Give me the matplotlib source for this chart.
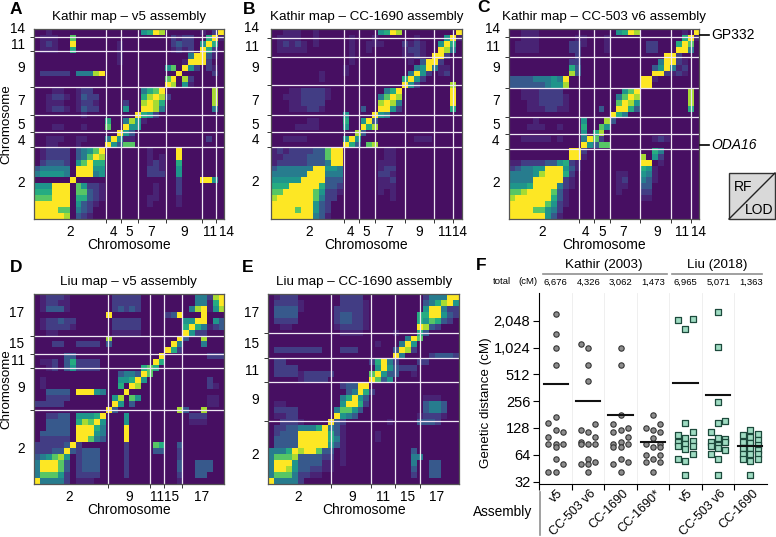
import numpy as np
import matplotlib
matplotlib.use("Agg")
import matplotlib.pyplot as plt
from matplotlib.lines import Line2D
from matplotlib.patches import Rectangle

plt.rcParams['font.family'] = ['Liberation Sans', 'DejaVu Sans']

# heat maps, one digit per cell, top row first (0 = dark purple, 9 = yellow)
kathir_v5 = """
0010 0000 0000 0000 0056 9800 0000 1029
0111 0070 0000 0000 0000 0002 1220 0691
0121 0090 0000 0010 0000 0002 3220 5960
0111 0060 0000 0010 0000 0001 2120 9620
0000 0000 0000 0010 0000 0000 0049 9310
0000 0000 0000 0010 0000 0000 0199 9200
0000 0000 0000 0000 0000 0057 0952 0210
0222 2204 4489 0000 0000 0000 9000 0020
0000 0000 0000 0000 0000 0079 0820 0000
0000 0000 0000 0000 0000 0098 0510 0000
0001 1001 2200 0000 0046 7900 0000 0080
0012 2101 3220 0000 0068 9820 0000 0080
0011 1001 2210 0002 0089 8600 0000 0080
0012 2101 3220 0005 0099 8400 0000 0040
0000 0000 1000 0000 0965 2000 0000 0000
0000 0000 0000 6004 8510 0000 0000 0000
0001 1000 1000 7009 5500 0000 0000 0000
0000 0000 0000 0095 3000 0000 0000 0000
0011 1001 1000 4951 1000 0000 0000 0200
0011 0001 0000 9537 7000 0000 0000 0000
0122 2203 4579 0000 0001 0000 9000 0000
0122 2203 4798 0000 0001 0100 9000 0000
0233 3205 7966 0000 0001 2100 6000 0000
3444 4409 9955 0000 0002 2100 5000 0000
4555 5409 9945 0000 0002 2200 5000 0000
0000 0090 0000 0000 0000 0000 2000 9950
5559 9907 5221 0000 0000 1000 2000 0000
6669 9907 7321 0000 0000 1000 2000 0000
7779 9906 6321 0000 0001 1000 1000 0000
9999 9905 3210 0000 0001 0000 1000 0000
9999 7704 3200 0000 0000 0000 0000 0000
9999 9803 2100 0000 0000 0000 0000 0000
"""

kathir_1690 = """
0011 1001 0000 0000 0056 9800 0000 0009
0111 1001 0000 0100 0100 0000 1000 0591
0121 2101 0000 0100 1110 0021 2100 5960
0111 1100 0000 0100 1000 0012 2100 9840
0000 0000 0000 0100 0000 0011 2109 9200
0000 0000 0000 0100 0000 0001 0399 2000
0000 0000 0000 1000 0000 0000 4594 1100
0000 0000 1000 1000 0000 0004 9520 1200
0000 0000 1000 0000 0000 0069 5200 0000
0000 0000 0000 0000 0000 0095 2000 0080
0001 1222 2100 0000 0004 6900 0000 0090
0011 1222 2100 0000 0047 9800 0000 0090
0001 1222 2000 0000 0089 8400 0000 0090
0001 1122 1000 0003 0099 5200 0000 0060
0000 0000 0000 5000 0954 0000 0000 0000
0000 0011 0000 6005 9300 0000 0000 0000
0000 1111 0000 5009 6800 0000 0000 0000
0000 0000 0000 0083 0000 0000 0000 0000
0011 1100 0000 5950 0000 0000 1110 0000
0000 0000 0000 9630 7800 0000 0000 0000
1212 2223 3799 0000 0001 1000 0000 0000
1122 2233 3799 0000 0001 1000 0000 0000
1222 2233 3499 0000 0011 1000 0000 0000
3444 4449 9554 0000 0012 2000 0000 0000
4444 4499 9444 0000 0022 1000 0000 0000
5555 5999 9333 0000 0011 2000 0000 0000
6669 9999 6332 0000 0011 1000 0000 0000
7799 9997 5221 0000 0010 1000 0000 0000
8999 9997 4220 0000 0000 1000 0000 0000
9999 9995 3200 0000 0000 0000 0000 0000
9999 7995 3200 0000 0000 0000 0000 0000
9999 9994 3100 0000 0000 0000 0000 0000
"""

kathir_503 = """
0011 1000 0000 0000 0056 9800 0000 0109
0011 1000 0001 1000 1000 0000 0000 0691
0111 1000 0022 1000 1000 0002 2000 6970
0111 1000 0022 0000 1000 0002 2000 9940
0000 0000 0002 0000 0000 0000 0099 2000
0000 0000 0022 0000 0000 0000 0499 2100
0000 0000 0063 0000 0000 0000 3594 1200
0000 0000 0083 0000 0000 0000 9921 2100
3333 4445 4900 0000 0000 0099 1000 0000
3333 3345 5800 0000 0000 0099 0000 0000
0011 1222 2000 0000 0005 7900 0000 0080
0011 1222 2100 0000 0047 9800 0000 0080
0001 1222 2100 0000 0079 8500 0000 0080
0001 1122 1100 0003 0099 6300 0000 0060
0000 0000 0000 0000 0964 0000 0000 0000
0000 1000 0000 5000 8300 0000 0000 0000
0001 1100 1000 6007 5000 0000 0000 0000
0000 0000 0000 5068 0000 0000 0000 0000
0011 1110 1000 4972 0000 0000 1210 0000
0000 0000 0000 9537 7000 0000 0000 0000
0000 0000 0099 2000 0000 0000 6400 0000
0000 0000 0099 1000 0000 0080 5200 0000
1122 2233 5621 0000 0000 0099 0100 0000
2344 5599 9531 0000 0000 0065 1000 0000
4444 5899 9620 0000 0011 0054 1000 0000
4444 9999 9210 0000 0012 0043 1000 0000
5556 9999 4210 0000 0011 0033 0000 0000
7789 9997 3100 0000 0010 0022 0000 0000
8999 9996 3100 0000 0000 0011 0000 0000
9999 9975 2100 0000 0000 0000 0000 0000
9999 7754 2000 0000 0000 0000 0000 0000
9999 9953 1000 0000 0000 0000 0000 0000
"""

liu_v5 = """
0122 2100 0000 0222 2200 0000 0004 4289
0122 1100 0000 0222 2200 0000 0004 4169
0133 3100 0000 0232 3200 0000 0048 9158
0000 0000 0000 9000 0000 0023 9000 9000
0122 3220 0000 0222 2200 0000 0559 9053
0122 2210 0000 0222 2200 0000 0696 4123
0011 0000 0000 0111 1100 0000 0952 2000
0000 0000 0000 8000 0000 0000 9300 8000
0002 2002 2220 3000 0000 0009 4000 4000
0000 0000 0000 0000 0000 0096 2000 0000
0000 0330 0000 0000 0000 0900 0000 0222
0112 0362 2220 0000 0000 9600 0000 0000
0012 0352 2220 0000 0067 6000 0000 0000
0000 0000 0000 0034 4397 0000 0000 0000
0100 0000 0000 0055 6950 0000 0000 0200
0100 0000 0000 0060 9800 0000 0000 0210
0033 3309 9954 0009 0000 0000 0000 0000
0022 2200 0000 0580 7500 0000 0000 0110
2222 2000 0000 0950 3000 0000 0000 0110
0000 0000 0000 9300 0000 0000 8300 8000
0022 3305 5569 0005 0000 0000 0022 2000
0033 3306 8795 0005 0000 0000 0011 1000
0033 3309 9964 0009 0000 0000 0000 0000
0333 3309 9954 0009 0000 0000 0000 0000
0222 2209 9743 0009 0000 0000 0000 0000
2222 2392 0000 0002 0000 7600 3000 0000
2223 3932 3330 0002 0000 3300 2000 0000
3457 8502 3330 0002 0000 0000 2000 0000
4999 7302 3330 0002 0000 0000 3003 3300
4999 7302 3330 0002 0000 0000 3003 3300
4777 5202 2220 0002 0000 0000 2003 3000
9444 4201 1100 0000 0000 0000 1000 0000
"""

liu_1690 = """
0122 2000 0000 2222 0000 0000 0024 4499
0222 2100 0000 2222 1000 0000 0034 6895
0333 3100 0002 2222 1000 0000 0059 9422
0333 3000 0002 3322 1000 0000 0669 9532
0222 2000 0002 3322 1000 0000 0657 6320
0011 0000 0001 2222 1000 0000 0983 2000
0000 0000 0000 1111 0000 0100 0630 0000
0000 0000 0000 0000 0000 0004 9700 0000
0000 0000 0000 0000 0010 0049 5000 0000
0222 2222 2000 2220 0000 0398 2000 0000
0000 0000 0000 0000 0000 0940 0002 3332
0220 0000 0000 0000 0269 4200 0220 0000
0222 2000 0000 0000 0059 5322 2000 0000
0222 2122 2220 0000 0795 3300 1000 0000
0000 0122 2200 0000 0973 5000 0000 0000
0000 0000 0000 2339 9000 0000 0000 0000
0000 0000 0000 0349 6200 0000 0000 0000
0000 0000 0000 4695 3000 0000 0011 1000
0110 0000 0000 5996 2000 0000 0034 4300
0222 2000 0004 7753 0000 0000 0034 4300
0112 2000 0009 5430 0000 0000 0122 2100
0022 2100 0093 2000 0000 1000 0333 2000
0223 3444 6943 1000 0000 0000 0000 0000
0233 3999 9963 1000 0010 0000 0000 0000
0333 3999 9964 1000 0010 0000 0000 0000
0333 3999 9953 1000 0000 0000 0000 0000
4446 9899 7330 1000 0000 0000 3000 0000
4777 8333 3220 1000 0000 0000 4400 0000
4999 5333 3110 1000 0000 0000 4003 3000
4998 5332 2110 0000 0000 0000 3003 3000
4777 4221 1000 0000 0000 0000 2003 3000
9444 4200 0000 0000 0000 0000 0000 0000
"""

chrom_k = ['2', '4', '5', '7', '9', '11', '14']
chrom_l = ['2', '9', '11', '15', '17']

# genetic distance panel
assemblies = ['v5', 'CC-503 v6', 'CC-1690', 'CC-1690*', 'v5', 'CC-503 v6', 'CC-1690']
totals = ['6,676', '4,326', '3,062', '1,473', '6,965', '5,071', '1,363']
means = [395, 256, 180, 88, 413, 300, 80]

dist_k_v5 = [2412, 1439, 1002, 651, 171, 145, 120, 116, 102, 85, 85, 85, 78, 57, 50, 41, 41]
side_k_v5 = [0, 0, 0, 0, 0, -1, 0, 1, -1, -1, 0, 1, 0, 0, 1, -1, 0]
dist_k_503 = [1131, 1002, 651, 434, 143, 120, 116, 102, 88, 85, 85, 85, 57, 53, 51, 51, 41]
side_k_503 = [-1, 0, 0, 0, 1, -1, 0, 1, -1, -1, 0, 1, 0, 1, -1, 0, 0]
dist_k_1690 = [1002, 651, 179, 143, 128, 120, 116, 102, 85, 88, 85, 78, 78, 57, 53, 51, 41]
side_k_1690 = [0, 0, 0, -1, 1, 0, -1, 1, -1, 0, 1, -1, 0, 0, 1, -1, 0]
dist_k_star = [178, 143, 128, 120, 116, 98, 85, 85, 78, 78, 64, 64, 57, 53, 53, 41]
side_k_star = [0, 1, -1, 0, 1, 0, -1, 1, 0, 1, -1, 1, 0, -1, 1, 0]
dist_l_v5 = [2084, 2118, 1650, 146, 107, 116, 99, 88, 92, 85, 80, 81, 74, 65, 58, 55, 38]
side_l_v5 = [-1, 1, 0, 0, -1, 1, 0, -1, 1, 0, -1, 1, 0, 1, -1, 0, 0]
dist_l_503 = [2540, 1047, 250, 152, 146, 116, 100, 96, 88, 88, 83, 81, 76, 73, 65, 58, 38]
side_l_503 = [0, 0, 0, 1, 0, -1, 0, 1, -1, 1, 0, -1, 0, 1, -1, 0, 0]
dist_l_1690 = [123, 107, 109, 102, 88, 95, 87, 83, 76, 76, 73, 65, 65, 66, 57, 54, 58, 38]
side_l_1690 = [0, -1, 1, 0, -1, 1, 0, 1, -1, 0, 1, -1, 0, 1, -1, 0, 1, 0]

W = 776.0
H = 537.0
fig = plt.figure(figsize=(7.76, 5.37), dpi=100)


def add_ax(x0, y0, x1, y1):
    return fig.add_axes([x0 / W, 1 - y1 / H, (x1 - x0) / W, (y1 - y0) / H])


def label(x, y, s, **kw):
    kw.setdefault('ha', 'center')
    kw.setdefault('va', 'center')
    kw.setdefault('fontsize', 10)
    fig.text(x / W, 1 - y / H, s, **kw)


levels = np.array([0.04, 0.1, 0.18, 0.28, 0.42, 0.52, 0.62, 0.74, 0.87, 1.0])


def heatmap(box, grid, borders, names, xpos, ypos, title, ylabel=False, ygap=9):
    rows = [r.replace(' ', '') for r in grid.strip().split('\n')]
    mat = np.array([[int(c) for c in r] for r in rows])
    ax = add_ax(*box)
    ax.imshow(levels[mat], cmap='viridis', vmin=0, vmax=1, origin='upper', extent=[0, 32, 0, 32],
              aspect='auto', interpolation='nearest')
    for b in borders:
        ax.axvline(b, color='#efe8f4', lw=0.9)
        ax.axhline(b, color='#efe8f4', lw=0.9)
    ax.set_xlim(0, 32)
    ax.set_ylim(0, 32)
    ax.set_xticks(borders)
    ax.set_yticks(borders)
    ax.set_xticklabels([])
    ax.set_yticklabels([])
    ax.tick_params(length=3.2, width=0.7, color='#333333')
    for s in ax.spines.values():
        s.set_color('#555555')
        s.set_linewidth(0.9)
    x0, y0, x1, y1 = box
    cell = (x1 - x0) / 32.0
    for n, p in zip(names, xpos):
        label(x0 + p * cell, y1 + 13, n, fontsize=9.8)
    for n, p in zip(names, ypos):
        label(x0 - ygap, y1 - p * cell, n, fontsize=9.8, ha='right')
    label((x0 + x1) / 2, y1 + 26, 'Chromosome', fontsize=10)
    label((x0 + x1) / 2, y0 - 12, title, fontsize=9.6)
    if ylabel:
        label(x0 - 27.5, (y0 + y1) / 2, 'Chromosome', fontsize=9.6, rotation=90)


heatmap((34, 29, 224, 219), kathir_v5, [12.2, 14.6, 17.5, 22.3, 28.3, 30.7], chrom_k,
        [6.1, 13.4, 16.1, 19.7, 25.3, 29.6, 32.4], [6.1, 13.2, 15.8, 19.9, 25.4, 29.3, 32],
        'Kathir map – v5 assembly', ylabel=True)
heatmap((271, 29, 461.7, 219), kathir_1690, [12.2, 14.7, 17.5, 22.5, 27.3, 30.5], chrom_k,
        [6.4, 13.4, 15.9, 19.8, 24.8, 29.2, 31.6], [6.2, 13.2, 15.8, 19.8, 25.4, 28.9, 32],
        'Kathir map – CC-1690 assembly', ygap=12)
heatmap((508.7, 29, 698.7, 219), kathir_503, [11.8, 14.3, 17.1, 22.1, 27.3, 30.7], chrom_k,
        [5.7, 12.9, 15.7, 19.3, 25, 29.2, 32], [6.1, 13.2, 15.8, 19.9, 25.4, 28.9, 32],
        'Kathir map – CC-503 v6 assembly')
heatmap((33.5, 294.3, 224, 484.3), liu_v5, [12.5, 19.6, 22, 24.9], chrom_l,
        [6, 16, 20.7, 23.2, 28.3], [6, 16.1, 20.7, 23.5, 28.7],
        'Liu map – v5 assembly', ylabel=True)
heatmap((268.3, 294.3, 459, 484.3), liu_1690, [10.6, 17.2, 21.3, 25.5], chrom_l,
        [5, 14.1, 19.3, 23.3, 28.3], [5, 14.1, 19, 23.5, 28.7],
        'Liu map – CC-1690 assembly')

# panel letters
for s, x, y in [('A', 16, 9), ('B', 249, 9), ('C', 483, 8), ('D', 16, 267), ('E', 248, 267), ('F', 481, 265)]:
    label(x, y, s, fontsize=12.5, fontweight='bold')

# marker genes next to panel C
for s, y, st in [('GP332', 35, 'normal'), ('ODA16', 145, 'italic')]:
    fig.add_artist(Line2D([700 / W, 709 / W], [1 - y / H, 1 - y / H], color='black', lw=1.2))
    label(711, y, s, ha='left', fontsize=10, style=st)

# RF / LOD key
fig.add_artist(Rectangle((729 / W, 1 - 219 / H), 46 / W, 46 / H, facecolor='#d9d9d9',
                         edgecolor='#333333', lw=1.0, transform=fig.transFigure))
fig.add_artist(Line2D([729 / W, 775 / W], [1 - 219 / H, 1 - 173 / H], color='#222222', lw=1.0))
label(743, 187, 'RF', fontsize=10)
label(759, 210, 'LOD', fontsize=10)

# genetic distance panel
ax = add_ax(539.3, 293, 766.7, 484)
ax.set_yscale('log', base=2)
ax.set_xlim(-0.5, 6.5)
ax.set_ylim(30.1, 4190)
dist_all = [dist_k_v5, dist_k_503, dist_k_1690, dist_k_star, dist_l_v5, dist_l_503, dist_l_1690]
side_all = [side_k_v5, side_k_503, side_k_1690, side_k_star, side_l_v5, side_l_503, side_l_1690]
for i in range(7):
    xs = i + 0.225 * np.array(side_all[i])
    if i < 4:
        ax.scatter(xs, dist_all[i], s=15, marker='o', facecolor='#8c8c8c', edgecolor='#333333',
                   linewidth=0.8, zorder=3)
    else:
        ax.scatter(xs, dist_all[i], s=17, marker='s', facecolor='#9fdcc2', edgecolor='#1d4a3c',
                   linewidth=0.9, zorder=3)
    ax.plot([i - 0.37, i + 0.37], [means[i], means[i]], color='#111111', lw=1.5, zorder=4)
for b in np.arange(0.5, 6):
    ax.axvline(b, color='#ececec', lw=0.6, zorder=0)
ax.spines['top'].set_visible(False)
ax.spines['right'].set_visible(False)
yt = [32, 64, 128, 256, 512, 1024, 2048]
ax.set_yticks(yt)
ax.set_yticklabels(['32', '64', '128', '256', '512', '1,024', '2,048'], fontsize=10.5)
ax.minorticks_off()
ax.tick_params(axis='y', length=4.5, width=0.8, pad=2)
ax.set_xticks(np.arange(-0.5, 6))
ax.set_xticklabels([])
ax.tick_params(axis='x', which='major', length=4, width=0.8)
label(486, 403, 'Genetic distance (cM)', fontsize=9.6, rotation=90)
for i, a in enumerate(assemblies):
    label(561.5 + 32.5 * i, 492, a, fontsize=9, rotation=45, ha='right', va='center',
          rotation_mode='anchor')

# header above panel F
label(604, 265, 'Kathir (2003)', fontsize=9.6)
label(717, 265, 'Liu (2018)', fontsize=9.6)
fig.add_artist(Line2D([543 / W, 667 / W], [1 - 273.5 / H] * 2, color='#909090', lw=1.2))
fig.add_artist(Line2D([672 / W, 762 / W], [1 - 273.5 / H] * 2, color='#909090', lw=1.2))
label(502, 282, 'total', fontsize=6.8)
label(528, 282, '(cM)', fontsize=6.8)
for i, t in enumerate(totals):
    label(555.7 + 32.5 * i, 282, t, fontsize=6.8)

label(503, 512, 'Assembly', fontsize=9.9)
fig.add_artist(Line2D([540.3 / W, 540.3 / W], [1 - 492 / H, 1 - 535 / H], color='#909090', lw=1.2))

fig.savefig('out.png', dpi=100)
